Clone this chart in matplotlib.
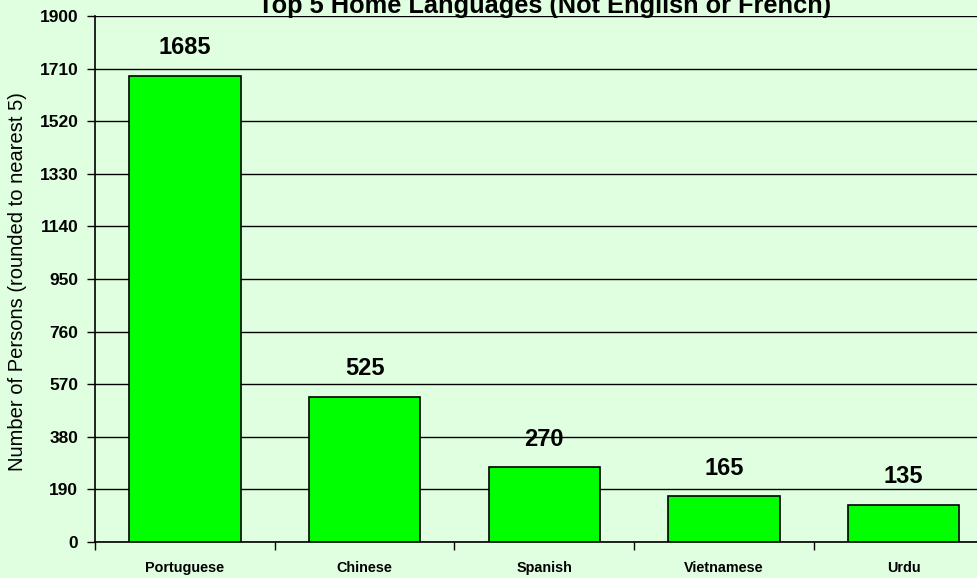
import numpy as np
import matplotlib.pyplot as plt

languages = ["Portuguese", "Chinese", "Spanish", "Vietnamese", "Urdu"]
persons = [1685, 525, 270, 165, 135]
y_ticks = [0, 190, 380, 570, 760, 950, 1140, 1330, 1520, 1710, 1900]

bg = "#e0ffe0"
bar_color = "#00ff00"
sans = ["Liberation Sans", "DejaVu Sans"]

W, H = 978, 578
fig = plt.figure(figsize=(W / 100, H / 100), dpi=100, facecolor=bg)
# plot area runs a little past the right edge, like the original export
ax = fig.add_axes([95 / W, 36 / H, 898.5 / W, 526 / H], facecolor=bg)

x = np.arange(len(languages))
ax.bar(x, persons, width=0.62, color=bar_color, edgecolor="black",
       linewidth=1.2, zorder=3)

for xi, v in zip(x, persons):
    ax.annotate(str(v), (xi, v), xytext=(0, 12), textcoords="offset points",
                ha="center", va="bottom", fontsize=17, fontweight="bold",
                family=sans)

ax.set_xlim(-0.5, len(languages) - 0.5)
ax.set_ylim(0, 1900)
ax.set_yticks(y_ticks)
ax.set_yticklabels([str(t) for t in y_ticks], fontsize=12.5, fontweight="bold",
                   family=sans)
ax.yaxis.grid(True, color="black", linewidth=1.0, zorder=0)
ax.set_axisbelow(True)

# category ticks between bars, names under bar centres
ax.set_xticks(np.arange(len(languages) + 1) - 0.5)
ax.set_xticklabels([])
ax.set_xticks(x, minor=True)
ax.set_xticklabels(languages, minor=True, fontsize=10.4, fontweight="bold",
                   family=sans)
ax.tick_params(axis="x", which="minor", length=0, pad=14)
ax.tick_params(axis="x", which="major", length=6, width=1, direction="out")
ax.tick_params(axis="y", length=6, width=1, direction="out", pad=6)

for s in ["top", "right"]:
    ax.spines[s].set_visible(False)
ax.spines["left"].set_linewidth(1.2)
ax.spines["bottom"].set_linewidth(1.2)

fig.text(18 / W, 1 - 282 / H, "Number of Persons (rounded to nearest 5)",
         rotation=90, ha="center", va="center", fontsize=14.5, family=sans)

fig.text(545 / W, 1 - 13 / H, "Top 5 Home Languages (Not English or French)",
         ha="center", va="baseline", fontsize=18.3, fontweight="bold", family=sans)

fig.savefig("out.png", dpi=100, facecolor=bg)
